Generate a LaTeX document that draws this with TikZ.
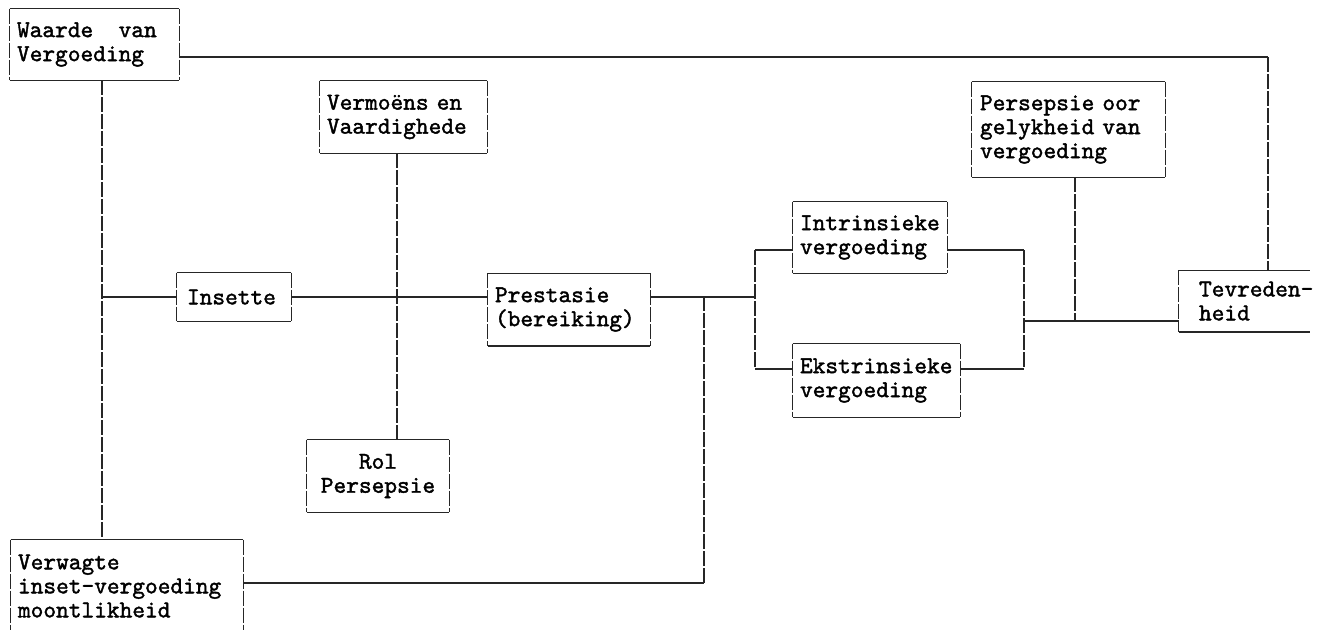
\documentclass[tikz,border=0pt]{standalone}
\usepackage{fontspec}
\newfontfamily\cour[FakeBold=1.6]{lmmono10-regular.otf}
\hyphenpenalty=10000
\exhyphenpenalty=10000
\tikzset{
  hl/.style={line width=0.6pt, draw=black!85},
  vl/.style={line width=0.6pt, draw=black!85, dash pattern=on 7.5pt off 1pt},
  bx/.style={draw=none, inner ysep=0pt, inner xsep=3.5pt, align=left,
    font=\cour\fontsize{12.1}{12}\selectfont},
}
\newcommand{\drawmyframe}[1]{%
  \draw[hl] (#1.north west) -- (#1.north east);
  \draw[hl] (#1.south west) -- (#1.south east);
  \draw[vl] (#1.north west) -- (#1.south west);
  \draw[vl] (#1.north east) -- (#1.south east);}
\begin{document}
\begin{tikzpicture}[x=0.5pt,y=-0.5pt]
\useasboundingbox (0,0) rectangle (1322,629);
\fill[white] (0,0) rectangle (1322,629);

% boxes
\node[bx, minimum width=84.5pt, minimum height=35.5pt, text width=77.5pt] (waarde) at (94.5,44.5) {Waarde\hspace{1.05em}van\\Vergoeding};
\node[bx, minimum width=83.5pt, minimum height=36pt, text width=76.5pt] (verm) at (403.5,117) {Vermoëns en\\Vaardighede};
\node[bx, minimum width=57pt, minimum height=24pt, text width=47pt, inner xsep=5pt] (insette) at (234,297) {Insette};
\node[bx, minimum width=81pt, minimum height=36pt, text width=74pt] (prest) at (569,309.5) {Prestasie\\(bereiking)};
\node[bx, align=center, minimum width=71pt, minimum height=36pt, text width=64pt] (rol) at (378,476) {Rol\\Persepsie};
\node[bx, minimum width=77pt, minimum height=35.5pt, text width=70pt] (intr) at (870,237.5) {Intrinsieke\\vergoeding};
\node[bx, minimum width=83.5pt, minimum height=36.5pt, text width=76.5pt] (ekstr) at (876.5,380.5) {Ekstrinsieke\\vergoeding};
\node[bx, minimum width=96.5pt, minimum height=47.5pt, text width=88.5pt, inner xsep=4pt] (pers) at (1068.5,129.5) {Persepsie oor\\gelykheid van\\vergoeding};
\node[bx, minimum width=80pt, minimum height=30.5pt, text width=60pt, inner xsep=10pt] (tevr) at (1259,301) {Tevreden-\\heid};
\node[bx, minimum width=116pt, minimum height=46pt, text width=109pt] (verw) at (127,586) {Verwagte\\inset-vergoeding\\moontlikheid};

\drawmyframe{waarde}
\drawmyframe{verm}
\drawmyframe{insette}
\drawmyframe{prest}
\drawmyframe{rol}
\drawmyframe{intr}
\drawmyframe{ekstr}
\drawmyframe{pers}

% open frames (cut off by the page edge)
\coordinate (tevrend) at (1310,0);
\draw[hl] (tevr.north west) -- (tevr.north west -| tevrend);
\draw[hl] (tevr.south west) -- (tevr.south west -| tevrend);
\draw[vl] (tevr.north west) -- (tevr.south west);
\draw[hl] (verw.north west) -- (verw.north east);
\draw[vl] (verw.north west) -- (verw.south west);
\draw[vl] (verw.north east) -- (verw.south east);

% junction coordinates
\coordinate (wtop) at (1268,57);
\coordinate (wv) at (102,297);
\coordinate (vv) at (397,297);
\coordinate (pv) at (704,297);
\coordinate (vj) at (704,583);
\coordinate (jL) at (755,297);
\coordinate (jLt) at (755,250);
\coordinate (jLb) at (755,369);
\coordinate (jRt) at (1024,250);
\coordinate (jRb) at (1024,369);
\coordinate (jR) at (1024,321);
\coordinate (pj) at (1075,321);

% connectors
\draw[hl] (waarde.east |- wtop) -- (wtop);
\draw[vl] (wtop) -- (tevr.north -| wtop);
\draw[vl] (waarde.south -| wv) -- (verw.north -| wv);
\draw[hl] (wv) -- (insette.west);
\draw[hl] (insette.east) -- (prest.west |- insette.east);
\draw[vl] (verm.south -| vv) -- (rol.north -| vv);
\draw[hl] (prest.east |- jL) -- (jL);
\draw[hl] (verw.east |- vj) -- (vj);
\draw[vl] (vj) -- (pv);
\draw[vl] (jLt) -- (jLb);
\draw[hl] (jLt) -- (intr.west |- jLt);
\draw[hl] (jLb) -- (ekstr.west |- jLb);
\draw[hl] (intr.east |- jRt) -- (jRt);
\draw[hl] (ekstr.east |- jRb) -- (jRb);
\draw[vl] (jRt) -- (jRb);
\draw[hl] (jR) -- (tevr.west |- jR);
\draw[vl] (pers.south -| pj) -- (pj);
\end{tikzpicture}
\end{document}
